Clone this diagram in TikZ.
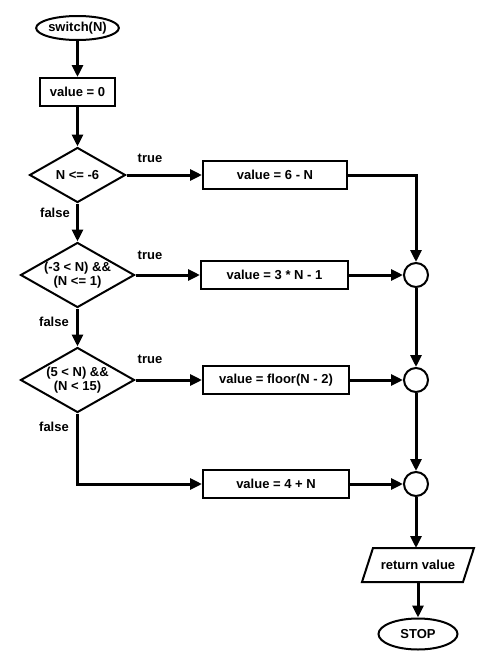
\documentclass[tikz,border=0pt]{standalone}
\usepackage{fontspec}
\setmainfont{Liberation Sans}
\usetikzlibrary{shapes.geometric,arrows.meta,calc}
\begin{document}
\begin{tikzpicture}[x=1pt,y=-1pt,
  font=\fontsize{13}{14}\selectfont\bfseries,
  every node/.style={line width=2pt},
  procbox/.style={draw,rectangle,minimum width=146pt,minimum height=28pt,inner sep=0pt},
  startbox/.style={draw,rectangle,minimum width=75pt,minimum height=28pt,inner sep=0pt},
  term/.style={draw,ellipse,minimum width=79pt,minimum height=24pt,inner sep=0pt},
  decide/.style={draw,diamond,aspect=1.75,inner sep=0pt,align=center},
  joinpt/.style={draw,circle,minimum size=24pt,inner sep=0pt},
  io/.style={minimum width=99pt,minimum height=32pt,inner sep=0pt},
  lbl/.style={font=\fontsize{13}{14}\selectfont\bfseries},
  conn/.style={line width=3pt,-{Triangle[length=12pt,width=11pt]}}
]
\useasboundingbox (0,0) rectangle (490,667);

\node[term] (sw) at (77.5,28) {switch(N)};
\node[startbox] (v0) at (77.5,92) {value = 0};
\node[decide,minimum width=96pt,minimum height=55pt] (d1) at (77.5,175) {N <= -6};
\node[decide,minimum width=114pt,minimum height=65pt] (d2) at (77.5,275) {(-3 < N) \&\&\\(N <= 1)};
\node[decide,minimum width=114pt,minimum height=65pt] (d3) at (77.5,380) {(5 < N) \&\&\\(N < 15)};

\node[procbox,minimum width=144pt] (b1) at (275,175) {value = 6 - N};
\node[procbox,minimum width=147pt] (b2) at (274.5,275) {value = 3 * N - 1};
\node[procbox] (b3) at (276,380) {value = floor(N - 2)};
\node[procbox] (b4) at (276,484) {value = 4 + N};

\node[joinpt] (j1) at (416,275) {};
\node[joinpt] (j2) at (416,380) {};
\node[joinpt] (j3) at (416,484) {};

\node[io] (ret) at (418,565) {return value};
\draw[line width=2pt] ($(ret.north west)+(5.5,0)$) -- ($(ret.north east)+(5.5,0)$)
  -- ($(ret.south east)+(-5.5,0)$) -- ($(ret.south west)+(-5.5,0)$) -- cycle;
\node[term,minimum height=31pt] (stop) at (418,634) {STOP};

\node[lbl] (t1) at (150,158) {true};
\node[lbl] (t2) at (150,255) {true};
\node[lbl] (t3) at (150,359) {true};
\node[lbl] (f1) at (55,213) {false};
\node[lbl] (f2) at (54,322) {false};
\node[lbl] (f3) at (54,427) {false};

\coordinate (c4) at (d3.south |- b4.west);
\coordinate (c1) at (j1.north |- b1.east);

\draw[conn] (sw) -- (v0);
\draw[conn] (v0) -- (d1);
\draw[conn] (d1.east) -- (b1.west);
\draw[conn] (d1.south) -- (d2.north);
\draw[conn] (d2.east) -- (b2.west);
\draw[conn] (d2.south) -- (d3.north);
\draw[conn] (d3.east) -- (b3.west);
\draw[conn] (d3.south) -- (c4) -- (b4.west);
\draw[conn] (b1.east) -- (c1) -- (j1.north);
\draw[conn] (b2.east) -- (j1.west);
\draw[conn] (j1.south) -- (j2.north);
\draw[conn] (b3.east) -- (j2.west);
\draw[conn] (j2.south) -- (j3.north);
\draw[conn] (b4.east) -- (j3.west);
\draw[conn] (j3.south) -- (j3.south |- ret.north);
\draw[conn] (ret.south -| stop.north) -- (stop.north);
\end{tikzpicture}
\end{document}
